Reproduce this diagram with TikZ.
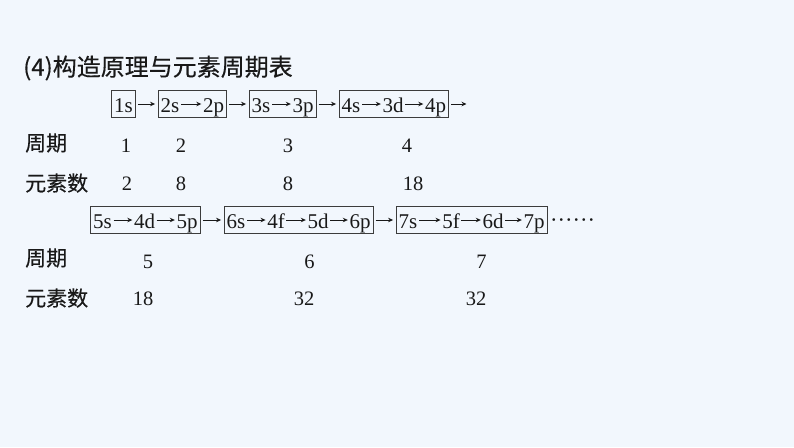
\documentclass[tikz,border=0pt]{standalone}
\usepackage{fontspec}
\setmainfont{Liberation Serif}
\newfontfamily\cjk[FakeBold=0.3]{Noto Sans CJK SC}
\usetikzlibrary{arrows.meta,fit}
\definecolor{bg}{RGB}{242,247,253}
\definecolor{ink}{RGB}{25,25,25}
\definecolor{boxc}{RGB}{60,60,60}
\begin{document}
\begin{tikzpicture}[x=1pt,y=-1pt,
  orb/.style={inner sep=0pt, text height=21pt, text depth=5pt, anchor=base, font=\fontsize{21}{21}\selectfont, text=ink},
  num/.style={inner sep=0pt, anchor=base, font=\fontsize{20.5}{20.5}\selectfont, text=ink},
  lab/.style={inner sep=0pt, anchor=west, font=\cjk\fontsize{21}{21}\selectfont, text=ink},
  grp/.style={draw=boxc, line width=0.8pt, inner xsep=2.5pt, inner ysep=0pt},
  arr/.style={draw=ink, line width=0.8pt, -{Stealth[length=5pt,width=4.5pt]}, shorten <=1.5pt, shorten >=1.5pt},
  barr/.style={arr, shorten <=2pt, shorten >=2.5pt}
]
\fill[bg] (0,0) rectangle (794,447);
\useasboundingbox (0,0) rectangle (794,447);

\node[anchor=west, inner sep=0pt, font=\cjk\fontsize{24}{24}\selectfont, text=ink] (title) at (23,68) {(4)构造原理与元素周期表};

% row 1 orbitals
\node[orb] (o1s) at (123.5,112) {1s};
\node[orb] (o2s) at (170,112) {2s};
\node[orb] (o2p) at (213.5,112) {2p};
\node[orb] (o3s) at (261,112) {3s};
\node[orb] (o3p) at (303,112) {3p};
\node[orb] (o4s) at (351,112) {4s};
\node[orb] (o3d) at (393,112) {3d};
\node[orb] (o4p) at (435.5,112) {4p};

\node[grp, fit=(o1s)] (b1) {};
\node[grp, fit=(o2s)(o2p)] (b2) {};
\node[grp, fit=(o3s)(o3p)] (b3) {};
\node[grp, fit=(o4s)(o4p)] (b4) {};

\draw[arr] (o2s.east) -- (o2p.west);
\draw[arr] (o3s.east) -- (o3p.west);
\draw[arr] (o4s.east) -- (o3d.west);
\draw[arr] (o3d.east) -- (o4p.west);
\draw[barr] (b1.east) -- (b2.west);
\draw[barr] (b2.east) -- (b3.west);
\draw[barr] (b3.east) -- (b4.west);
\coordinate (end1) at (469,104);
\draw[barr] (b4.east) -- (end1);

% row 1 labels
\node[lab] (per1) at (25,143) {周期};
\node[lab] (ele1) at (25,183) {元素数};
\node[num] (p1) at (126,152) {1};
\node[num] (p2) at (181,152) {2};
\node[num] (p3) at (288,152) {3};
\node[num] (p4) at (407,152) {4};
\node[num] (e1) at (127,190) {2};
\node[num] (e2) at (181,190) {8};
\node[num] (e3) at (288,190) {8};
\node[num] (e4) at (413,190) {18};

% row 2 orbitals
\node[orb] (o5s) at (102.5,228) {5s};
\node[orb] (o4d) at (144.5,228) {4d};
\node[orb] (o5p) at (187,228) {5p};
\node[orb] (o6s) at (236,228) {6s};
\node[orb] (o4f) at (276,228) {4f};
\node[orb] (o5d) at (318,228) {5d};
\node[orb] (o6p) at (360,228) {6p};
\node[orb] (o7s) at (408,228) {7s};
\node[orb] (o5f) at (451,228) {5f};
\node[orb] (o6d) at (493,228) {6d};
\node[orb] (o7p) at (534,228) {7p};

\node[grp, fit=(o5s)(o5p)] (b5) {};
\node[grp, fit=(o6s)(o6p)] (b6) {};
\node[grp, fit=(o7s)(o7p)] (b7) {};

\draw[arr] (o5s.east) -- (o4d.west);
\draw[arr] (o4d.east) -- (o5p.west);
\draw[arr] (o6s.east) -- (o4f.west);
\draw[arr] (o4f.east) -- (o5d.west);
\draw[arr] (o5d.east) -- (o6p.west);
\draw[arr] (o7s.east) -- (o5f.west);
\draw[arr] (o5f.east) -- (o6d.west);
\draw[arr] (o6d.east) -- (o7p.west);
\draw[barr] (b5.east) -- (b6.west);
\draw[barr] (b6.east) -- (b7.west);
\node[anchor=base west, inner sep=0pt, font=\fontsize{22.5}{22.5}\selectfont, text=ink] (dots) at (550,227.5) {······};

% row 2 labels
\node[lab] (per2) at (25,258) {周期};
\node[lab] (ele2) at (25,298) {元素数};
\node[num] (p5) at (148,268) {5};
\node[num] (p6) at (309.5,268) {6};
\node[num] (p7) at (481.5,268) {7};
\node[num] (e5) at (143,305.5) {18};
\node[num] (e6) at (304,305.5) {32};
\node[num] (e7) at (476,305.5) {32};
\end{tikzpicture}
\end{document}
